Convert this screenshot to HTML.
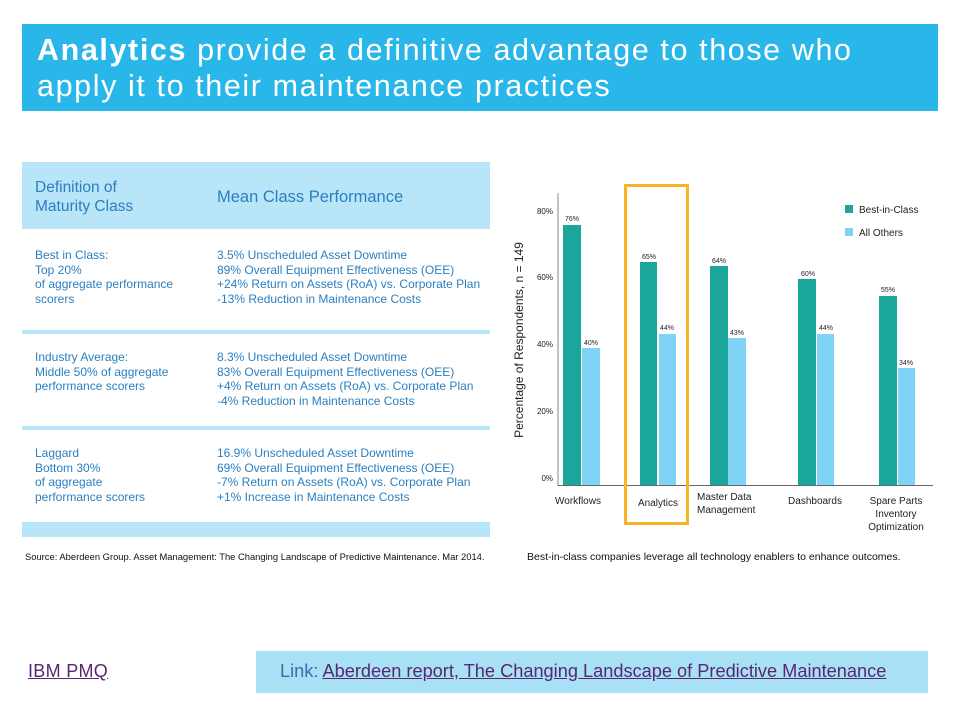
<!DOCTYPE html>
<html><head><meta charset="utf-8"><style>
body{margin:0;width:960px;height:720px;background:#fff;position:relative;overflow:hidden;font-family:"Liberation Sans",sans-serif}
.a{position:absolute;white-space:nowrap}
.t{color:#2b7fc0;font-size:12px;line-height:14.5px}
</style></head><body>
<div class="a" style="left:22px;top:24px;width:916px;height:87px;background:#29b6e8"></div>
<div class="a" style="left:37px;top:32px;color:#fff;font-size:30.5px;line-height:36px;letter-spacing:1.6px;font-family:'Liberation Sans',sans-serif"><b>Analytics</b> provide a definitive advantage to those who<br>apply it to their maintenance practices</div>

<div class="a" style="left:22px;top:162px;width:468px;height:67px;background:#b8e5f8"></div>
<div class="a" style="left:22px;top:330px;width:468px;height:4px;background:#b8e5f8"></div>
<div class="a" style="left:22px;top:426px;width:468px;height:4px;background:#b8e5f8"></div>
<div class="a" style="left:22px;top:522px;width:468px;height:15px;background:#b8e5f8"></div>
<div class="a" style="left:35px;top:178px;color:#2b7fc0;font-size:15.5px;line-height:19px">Definition of<br>Maturity Class</div>
<div class="a" style="left:217px;top:188px;color:#2b7fc0;font-size:16.5px">Mean Class Performance</div>
<div class="a t" style="left:35px;top:248px">Best in Class:<br>Top 20%<br>of aggregate performance<br>scorers</div>
<div class="a t" style="left:217px;top:248px">3.5% Unscheduled Asset Downtime<br>89% Overall Equipment Effectiveness (OEE)<br>+24% Return on Assets (RoA) vs. Corporate Plan<br>-13% Reduction in Maintenance Costs</div>
<div class="a t" style="left:35px;top:350px">Industry Average:<br>Middle 50% of aggregate<br>performance scorers</div>
<div class="a t" style="left:217px;top:350px">8.3% Unscheduled Asset Downtime<br>83% Overall Equipment Effectiveness (OEE)<br>+4% Return on Assets (RoA) vs. Corporate Plan<br>-4% Reduction in Maintenance Costs</div>
<div class="a t" style="left:35px;top:446px">Laggard<br>Bottom 30%<br>of aggregate<br>performance scorers</div>
<div class="a t" style="left:217px;top:446px">16.9% Unscheduled Asset Downtime<br>69% Overall Equipment Effectiveness (OEE)<br>-7% Return on Assets (RoA) vs. Corporate Plan<br>+1% Increase in Maintenance Costs</div>
<div class="a" style="left:25px;top:551px;font-size:9.4px;color:#111">Source: Aberdeen Group. Asset Management: The Changing Landscape of Predictive Maintenance. Mar 2014.</div>
<div class="a" style="left:527px;top:551px;font-size:10.5px;color:#111">Best-in-class companies leverage all technology enablers to enhance outcomes.</div>

<svg class="a" style="left:0;top:0" width="960" height="720" font-family="Liberation Sans,sans-serif">
<line x1="558" y1="193" x2="558" y2="486" stroke="#888" stroke-width="1"/>
<line x1="558" y1="485.5" x2="933" y2="485.5" stroke="#666" stroke-width="1"/>
<g font-size="8" fill="#222" text-anchor="end">
<text x="553" y="214">80%</text><text x="553" y="280">60%</text><text x="553" y="347">40%</text><text x="553" y="414">20%</text><text x="553" y="481">0%</text>
</g>
<text transform="translate(523,340) rotate(-90)" font-size="12" fill="#222" text-anchor="middle">Percentage of Respondents, n = 149</text>
<g fill="#1aa69a">
<rect x="563" y="225" width="18" height="260"/><rect x="640" y="262" width="17" height="223"/><rect x="710" y="266" width="18" height="219"/><rect x="798" y="279" width="18" height="206"/><rect x="879" y="296" width="18" height="189"/>
</g>
<g fill="#7fd3f4">
<rect x="582" y="348" width="18" height="137"/><rect x="659" y="334" width="17" height="151"/><rect x="728" y="338" width="18" height="147"/><rect x="817" y="334" width="17" height="151"/><rect x="898" y="368" width="17" height="117"/>
</g>
<g font-size="7" fill="#222" text-anchor="middle">
<text x="572" y="221">76%</text><text x="591" y="345">40%</text><text x="649" y="259">65%</text><text x="667" y="330">44%</text>
<text x="719" y="263">64%</text><text x="737" y="335">43%</text><text x="808" y="276">60%</text><text x="826" y="330">44%</text>
<text x="888" y="292">55%</text><text x="906" y="365">34%</text>
</g>
<rect x="625.5" y="185.5" width="62" height="338" fill="none" stroke="#f7b526" stroke-width="3"/>
<rect x="845" y="205" width="8" height="8" fill="#1aa69a"/><rect x="845" y="228" width="8" height="8" fill="#7fd3f4"/>
<g font-size="10" fill="#222"><text x="859" y="213">Best-in-Class</text><text x="859" y="236">All Others</text></g>
<g font-size="10" fill="#222" text-anchor="middle">
<text x="578" y="504">Workflows</text><text x="658" y="506">Analytics</text>
<text x="697" y="500" text-anchor="start">Master Data</text><text x="697" y="513" text-anchor="start">Management</text>
<text x="815" y="504">Dashboards</text>
<text x="896" y="504">Spare Parts</text><text x="896" y="517">Inventory</text><text x="896" y="530">Optimization</text>
</g>
</svg>

<div class="a" style="left:256px;top:651px;width:672px;height:42px;background:#a8e0f6"></div>
<div class="a" style="left:28px;top:661px;font-size:18px;color:#5b2670;text-decoration:underline;letter-spacing:0.3px">IBM PMQ</div>
<div class="a" style="left:280px;top:661px;font-size:18.2px;color:#3a6cb0">Link: <span style="color:#5b2670;text-decoration:underline">Aberdeen report, The Changing Landscape of Predictive Maintenance</span></div>
</body></html>
